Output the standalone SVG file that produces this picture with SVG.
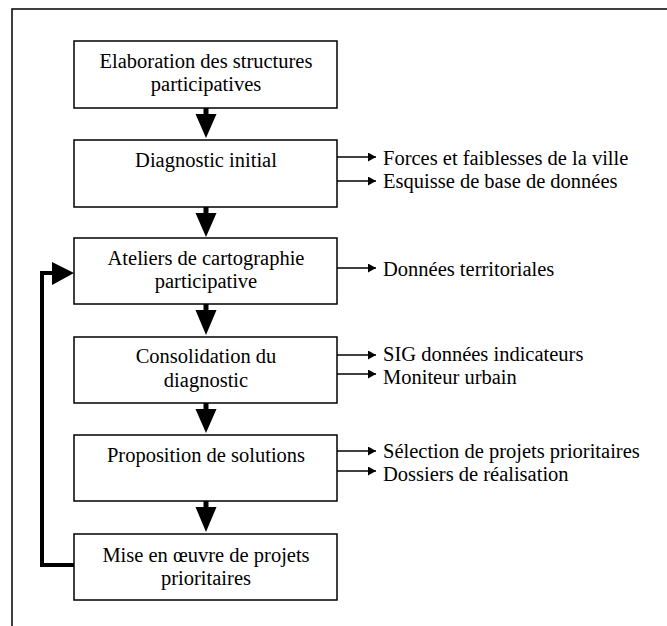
<svg xmlns="http://www.w3.org/2000/svg" width="667" height="626" viewBox="0 0 667 626">
<defs>
<style>
.box{fill:#fff;stroke:#000;stroke-width:1.5}
.t{font-family:"Liberation Serif","Times New Roman",serif;font-size:20.5px;fill:#000}
.c{text-anchor:middle}
.side{stroke:#000;stroke-width:1.5;fill:none}
.shaft{stroke:#000;stroke-width:5;stroke-linecap:round;fill:none}
.fb{stroke:#000;stroke-width:4;fill:none}
</style>
<marker id="sa" markerWidth="9" markerHeight="9" refX="8" refY="4.5" orient="auto" markerUnits="userSpaceOnUse">
<path d="M0,0 L8,4.5 L0,9 Z" fill="#000"/>
</marker>
</defs>
<rect width="667" height="626" fill="#fff"/>
<g id="frame">
<path d="M12,626 L12,9 L667,9" fill="none" stroke="#000" stroke-width="1.5"/>
</g>
<g id="connectors">
<!-- main down arrows -->
<path class="shaft" d="M206,107 L206,116"/><path d="M195.5,114 L216.5,114 L206,138 Z"/>
<path class="shaft" d="M206,206 L206,215"/><path d="M195.5,213 L216.5,213 L206,237 Z"/>
<path class="shaft" d="M206,303 L206,312"/><path d="M195.5,310 L216.5,310 L206,335 Z"/>
<path class="shaft" d="M206,402 L206,411"/><path d="M195.5,409 L216.5,409 L206,433 Z"/>
<path class="shaft" d="M206,500 L206,509"/><path d="M195.5,507 L216.5,507 L206,532 Z"/>
<!-- feedback loop -->
<path class="fb" d="M74,565 L42,565 L42,273 L54,273"/>
<path d="M52,262 L74,273 L52,285 Z"/>
<!-- side arrows -->
<path class="side" d="M337,157 L376,157" marker-end="url(#sa)"/>
<path class="side" d="M337,181 L376,181" marker-end="url(#sa)"/>
<path class="side" d="M337,268 L376,268" marker-end="url(#sa)"/>
<path class="side" d="M337,355 L376,355" marker-end="url(#sa)"/>
<path class="side" d="M337,374 L376,374" marker-end="url(#sa)"/>
<path class="side" d="M337,451 L376,451" marker-end="url(#sa)"/>
<path class="side" d="M337,471 L376,471" marker-end="url(#sa)"/>
</g>
<g id="n1"><rect class="box" x="74" y="41" width="263" height="67"/>
<text class="t c" x="206" y="68">Elaboration des structures</text>
<text class="t c" x="206" y="91">participatives</text></g>
<g id="n2"><rect class="box" x="74" y="140" width="263" height="67"/>
<text class="t c" x="206" y="167">Diagnostic initial</text></g>
<g id="n3"><rect class="box" x="74" y="238" width="263" height="66"/>
<text class="t c" x="206" y="265">Ateliers de cartographie</text>
<text class="t c" x="206" y="288">participative</text></g>
<g id="n4"><rect class="box" x="74" y="337" width="263" height="66"/>
<text class="t c" x="206" y="363">Consolidation du</text>
<text class="t c" x="206" y="387">diagnostic</text></g>
<g id="n5"><rect class="box" x="74" y="435" width="263" height="66"/>
<text class="t c" x="206" y="462">Proposition de solutions</text></g>
<g id="n6"><rect class="box" x="74" y="534" width="263" height="66"/>
<text class="t c" x="206" y="562">Mise en œuvre de projets</text>
<text class="t c" x="206" y="585">prioritaires</text></g>
<g id="outputs">
<text class="t" x="383" y="165">Forces et faiblesses de la ville</text>
<text class="t" x="383" y="188">Esquisse de base de données</text>
<text class="t" x="383" y="276">Données territoriales</text>
<text class="t" x="383" y="361">SIG données indicateurs</text>
<text class="t" x="383" y="384">Moniteur urbain</text>
<text class="t" x="383" y="458">Sélection de projets prioritaires</text>
<text class="t" x="383" y="481">Dossiers de réalisation</text>
</g>
</svg>
